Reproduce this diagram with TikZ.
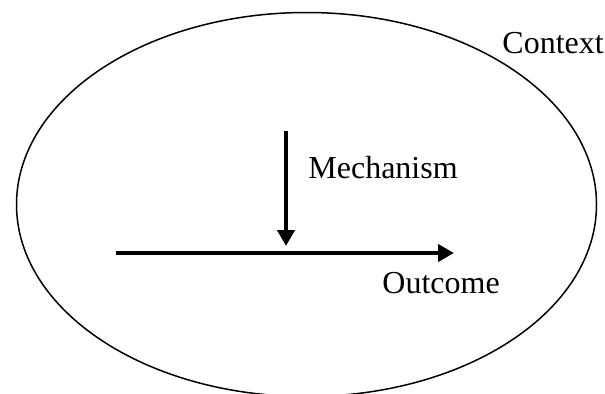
\documentclass[tikz,border=0pt]{standalone}
\usepackage{fontspec}
\setmainfont{Liberation Serif}
\usetikzlibrary{arrows.meta,shapes.geometric}

\tikzstyle{frame} = [ellipse,draw,line width=0.75pt,minimum width=290pt,minimum height=192pt,inner sep=0pt]
\tikzstyle{term} = [anchor=base west,inner sep=0pt]
\tikzstyle{flow} = [line width=2pt,-{Triangle[length=8pt,width=8.5pt]}]
\tikzstyle{every node}=[font=\fontsize{16}{19}\selectfont]

\begin{document}
\begin{tikzpicture}[x=0.5pt,y=0.5pt]
	\useasboundingbox (0,0) rectangle (605,393);
	\clip (0,0) rectangle (605,393);
	\node[frame] (ctx) at (306.5,188.5) {};
	\node[term] (ctxt) at (502,340) {Context};
	\node[term] (mecht) at (308,215) {Mechanism};
	\node[term] (outt) at (382,100) {Outcome};
	\coordinate (o1) at (116,140);
	\coordinate (o2) at (454,140);
	\coordinate (m1) at (286,262);
	\coordinate (m2) at (286,147);
	\draw[flow] (o1) -- (o2);
	\draw[flow] (m1) -- (m2);
\end{tikzpicture}
\end{document}
